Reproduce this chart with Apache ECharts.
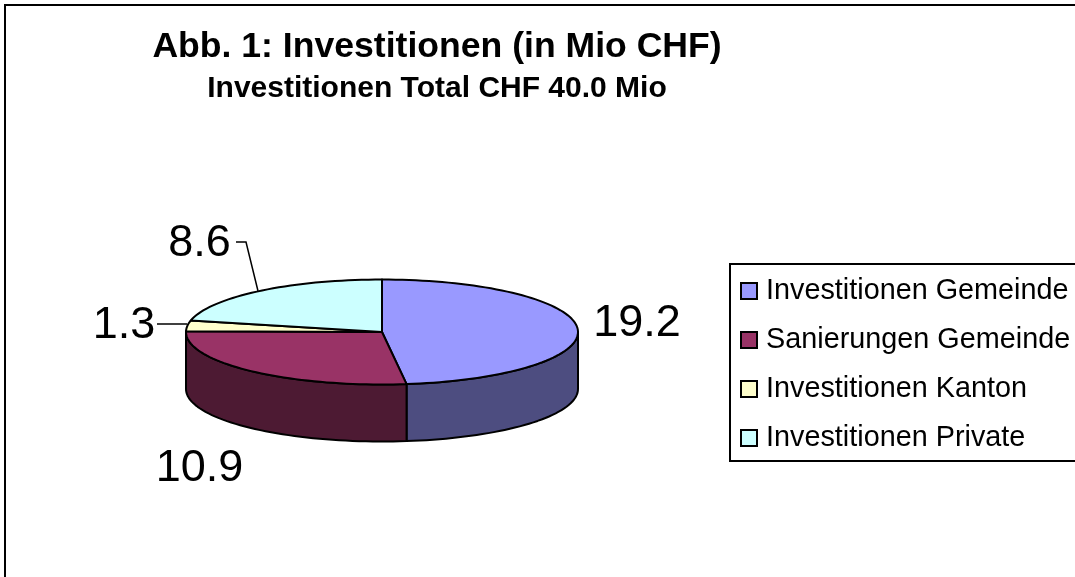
<!DOCTYPE html>
<html>
<head>
<meta charset="utf-8">
<style>
  html, body { margin: 0; padding: 0; background: #fff; overflow: hidden; }
  #chart { width: 1075px; height: 577px; }
</style>
<script src="https://cdn.jsdelivr.net/npm/echarts@6/dist/echarts.min.js"></script>
</head>
<body>
<div id="chart"></div>
<script>
const categories = ['Investitionen Gemeinde', 'Sanierungen Gemeinde', 'Investitionen Kanton', 'Investitionen Private']
const values = [19.2, 10.9, 1.3, 8.6]
const topColors = ['#9999ff', '#993366', '#ffffcc', '#ccffff']
const wallColors = ['#4d4d80', '#4d1a33', '#80805f', '#668080']

const fontFamily = '"Liberation Sans", Arial, sans-serif'
const total = values.reduce((a, b) => a + b, 0)

// flattened pie: ellipse on screen, angles clockwise from 12 o'clock
const pie = { cx: 382, cy: 332, rx: 196, ry: 52.5, depth: 57 }
const labelPos = [
  { x: 637, y: 324 },
  { x: 199.5, y: 469 },
  { x: 124, y: 326, leader: [[157, 324], [187, 324]] },
  { x: 199.5, y: 244, leader: [[236, 242], [246, 242], [258, 291]] }
]

function rimPoint(deg, dy) {
  const a = deg * Math.PI / 180
  return [pie.cx + pie.rx * Math.sin(a), pie.cy - pie.ry * Math.cos(a) + dy]
}

function arc(from, to, dy) {
  const pts = []
  const steps = Math.max(2, Math.ceil((to - from) / 2))
  for (let i = 0; i <= steps; i++) {
    pts.push(rimPoint(from + (to - from) * i / steps, dy))
  }
  return pts
}

function renderSlice(params, api) {
  const i = params.seriesIndex
  const value = api.value(0)
  const before = values.slice(0, i).reduce((a, b) => a + b, 0)
  const start = before / total * 360
  const end = start + value / total * 360
  const stroke = { stroke: '#000', lineWidth: 2, lineJoin: 'round' }
  const children = []

  // only the front half of the rim shows a wall
  const wallFrom = Math.max(start, 90)
  const wallTo = Math.min(end, 270)
  if (wallFrom < wallTo) {
    const upper = arc(wallFrom, wallTo, 0)
    const lower = arc(wallFrom, wallTo, pie.depth).reverse()
    children.push({
      type: 'polygon',
      shape: { points: upper.concat(lower) },
      style: { fill: wallColors[i], ...stroke }
    })
  }

  children.push({
    type: 'polygon',
    z2: 5,
    shape: { points: [[pie.cx, pie.cy]].concat(arc(start, end, 0)) },
    style: { fill: topColors[i], ...stroke }
  })

  const pos = labelPos[i]
  if (pos.leader) {
    children.push({
      type: 'polyline',
      z2: 6,
      shape: { points: pos.leader },
      style: { fill: 'none', stroke: '#000', lineWidth: 1.5 }
    })
  }
  children.push({
    type: 'text',
    z2: 7,
    x: pos.x,
    y: pos.y,
    style: {
      text: value.toFixed(1),
      fontFamily: fontFamily,
      fontSize: 45,
      fill: '#000',
      textAlign: 'center',
      textVerticalAlign: 'middle'
    }
  })
  return { type: 'group', children: children }
}

const option = {
  backgroundColor: '#fff',
  animation: false,
  title: {
    text: 'Abb. 1: Investitionen (in Mio CHF)',
    subtext: 'Investitionen Total CHF 40.0 Mio',
    left: 432,
    top: 24,
    textAlign: 'center',
    itemGap: 9,
    textStyle: { fontFamily: fontFamily, fontWeight: 'bold', fontSize: 35.6, color: '#000' },
    subtextStyle: { fontFamily: fontFamily, fontWeight: 'bold', fontSize: 30, color: '#000' }
  },
  legend: {
    orient: 'vertical',
    left: 730,
    top: 264,
    padding: [12, 60, 8, 10],
    itemWidth: 16,
    itemHeight: 16,
    itemGap: 19,
    borderColor: '#000',
    borderWidth: 2,
    selectedMode: false,
    icon: 'rect',
    itemStyle: { borderColor: '#000', borderWidth: 2 },
    textStyle: { fontFamily: fontFamily, fontSize: 28.8, color: '#000', lineHeight: 30, padding: [0, 0, 0, 4] },
    data: categories
  },
  graphic: [{
    type: 'rect',
    shape: { x: 5, y: 5, width: 1200, height: 800 },
    style: { fill: 'none', stroke: '#000', lineWidth: 2 },
    silent: true,
    z: 0
  }],
  series: categories.map((name, i) => ({
    type: 'custom',
    name: name,
    coordinateSystem: 'none',
    silent: true,
    itemStyle: { color: topColors[i] },
    renderItem: renderSlice,
    data: [[values[i]]]
  }))
}

const box = echarts.init(document.getElementById('chart'), null, { renderer: 'canvas' })
box.setOption(option)
</script>
</body>
</html>
